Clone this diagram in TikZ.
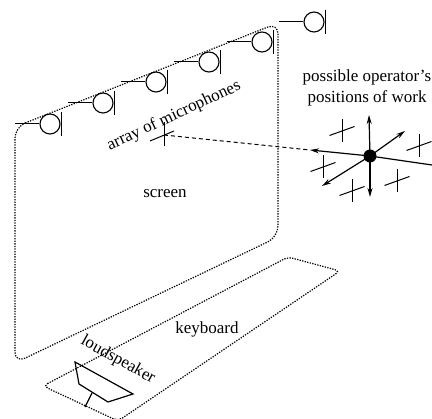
\documentclass[tikz,border=0pt]{standalone}
\usepackage{fontspec}
\setmainfont{Liberation Serif}
\usetikzlibrary{arrows.meta}
\tikzset{
  outline/.style={line width=1.2pt,dash pattern=on 1.3pt off 1.3pt,rounded corners=11pt},
  solidline/.style={line width=1pt},
  heavy/.style={line width=1.2pt},
  arr/.style={heavy,-{Stealth[length=9pt,width=5pt]}},
  lbl/.style={font=\fontsize{17}{20}\selectfont,inner sep=0pt}
}
\newcommand{\micro}[3]{%
  \coordinate (s#1) at (#2-35,#3);
  \node[circle,draw,line width=1.1pt,minimum size=20pt,inner sep=0pt] (m#1) at (#2,#3) {};
  \draw[solidline] (s#1) -- (m#1.west);
  \coordinate (ba#1) at (#2+11,#3-12);
  \coordinate (bb#1) at (#2+11,#3+12);
  \draw[solidline] (ba#1) -- (bb#1);
}
\newcommand{\pos}[3]{%
  \coordinate (a#1) at (#2,#3-11.5);
  \coordinate (b#1) at (#2,#3+11.5);
  \coordinate (c#1) at (#2-12.5,#3+4.5);
  \coordinate (d#1) at (#2+12.5,#3-4.5);
  \draw[solidline] (a#1) -- (b#1);
  \draw[solidline] (c#1) -- (d#1);
}
\begin{document}
\begin{tikzpicture}[x=1pt,y=-1pt]
\useasboundingbox (0,0) rectangle (432,419);
% screen
\draw[outline] (15,127) -- (278,23) -- (278,237) -- (15,363) -- cycle;
% keyboard
\begin{scope}
\clip (0,0) rectangle (432,419);
\draw[outline,rounded corners=5pt] (43,386) -- (288,257) -- (340,271) -- (118,421) -- cycle;
\end{scope}
% microphones
\micro{1}{50}{124}
\micro{2}{103}{103}
\micro{3}{156}{82}
\micro{4}{209}{62}
\micro{5}{262}{42}
\micro{6}{314}{22}
% array cross
\coordinate (xa) at (164,122);
\coordinate (xb) at (164,146);
\coordinate (xc) at (150,141);
\coordinate (xd) at (174,131);
\coordinate (xo) at (164,135);
\draw[solidline] (xa) -- (xb);
\draw[solidline] (xc) -- (xd);
% operator
\node[circle,fill=black,minimum size=13pt,inner sep=0pt] (op) at (370,156) {};
\coordinate (opl) at (310,150);
\coordinate (opr) at (432,165);
\coordinate (opu) at (369,115);
\coordinate (opd) at (370,197);
\coordinate (opne) at (405,131);
\coordinate (opsw) at (322,186);
\draw[line width=1pt,dash pattern=on 4pt off 3pt] (xo) -- (opl);
\draw[arr] (op.center) -- (opl);
\draw[heavy] (op.center) -- (opr);
\draw[arr] (op.center) -- (opu);
\draw[arr] (op.center) -- (opd);
\draw[arr] (op.center) -- (opne);
\draw[arr] (op.center) -- (opsw);
% stars
\pos{p}{342}{131}
\pos{q}{419}{146}
\pos{r}{323}{167}
\pos{s}{352}{191}
\pos{t}{397}{181}
% loudspeaker
\coordinate (l1) at (75,362);
\coordinate (l2) at (133,394);
\coordinate (l3) at (108,402);
\coordinate (l4) at (79,384);
\coordinate (l5) at (92,393);
\coordinate (l6) at (85,407);
\draw[heavy] (l1) -- (l2) -- (l3) -- (l4) -- cycle;
\draw[heavy] (l5) -- (l6);
% labels
\node[lbl] (t1) at (165,194) {screen};
\node[lbl] (t2) at (207,329) {keyboard};
\node[lbl,rotate=25] (t3) at (174,116) {array of microphones};
\node[lbl,rotate=-29] (t4) at (118,360) {loudspeaker};
\node[lbl] (t5) at (367,77) {possible operator’s};
\node[lbl] (t6) at (367,98) {positions of work};
\end{tikzpicture}
\end{document}
